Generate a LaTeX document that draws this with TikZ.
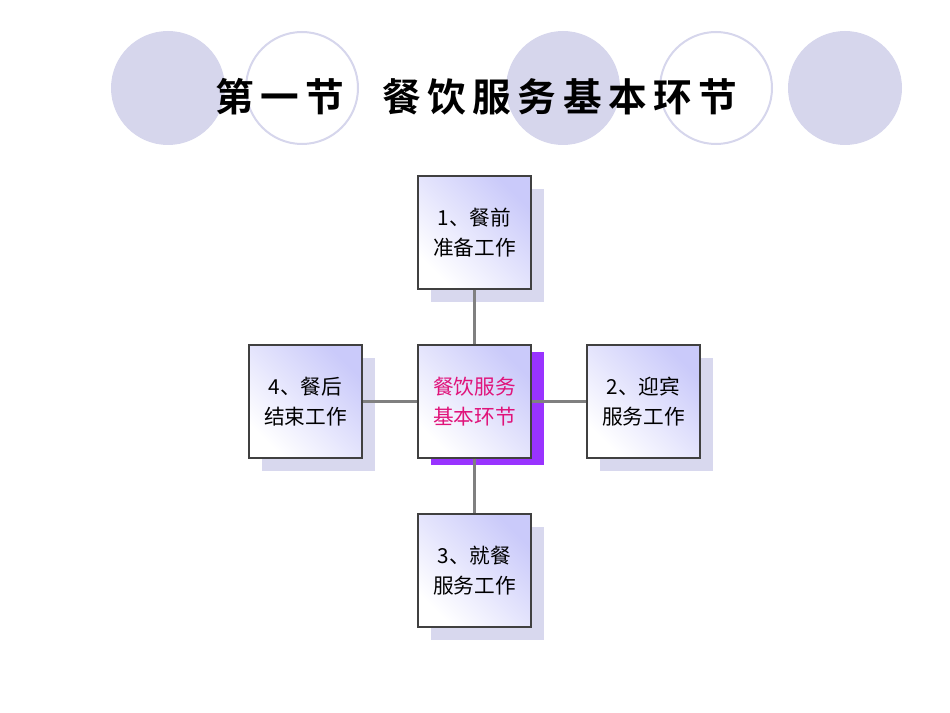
\documentclass[tikz,border=0pt]{standalone}
\usepackage{fontspec}
\newfontfamily\cjk{Noto Sans CJK SC}
\newfontfamily\cjkb{Noto Sans CJK SC Bold}
\definecolor{lav}{HTML}{D6D6EC}
\definecolor{shad}{HTML}{D8D8EE}
\definecolor{boxb}{HTML}{CACAFA}
\definecolor{purp}{HTML}{9933FF}
\definecolor{pink}{HTML}{E0137A}
\begin{document}
\begin{tikzpicture}[x=0.75pt,y=-0.75pt,
  bx/.style={draw=black!75,line width=0.8pt,minimum width=84.75pt,minimum height=84.75pt,
    inner sep=0pt,align=center,font=\cjk\fontsize{15.5}{22}\selectfont,
    path picture={\shade[bottom color=white,top color=boxb,shading angle=-45]
      (path picture bounding box.south west) rectangle (path picture bounding box.north east);}},
  sh/.style={fill=shad,draw=none},
  ln/.style={draw=gray,line width=2pt}]
\useasboundingbox (0,0) rectangle (950,713);
\fill[lav] (168,88) circle (57);
\draw[lav,line width=1.5pt,fill=white] (302,88) circle (56);
\fill[lav] (563,88) circle (57);
\draw[lav,line width=1.5pt,fill=white] (716,88) circle (56);
\fill[lav] (845,88) circle (57);
\node (title) at (476,97) {\cjkb\fontsize{29}{32}\selectfont 第\,一\,节\quad 餐\,饮\,服\,务\,基\,本\,环\,节};
% shadows
\fill[sh] (431,189) rectangle (544,302);
\fill[sh] (262,358) rectangle (375,471);
\fill[sh] (600,358) rectangle (713,471);
\fill[sh] (431,527) rectangle (544,640);
\fill[purp] (431,352) rectangle (544,465);
\coordinate (c) at (474.5,401.5);
\node[bx,text=pink] (ctr) at (c) {餐饮服务\\基本环节};
\node[bx] (top) at (474.5,232.5) {1、餐前\\准备工作};
\node[bx] (lft) at (305.5,401.5) {4、餐后\\结束工作};
\node[bx] (rgt) at (643.5,401.5) {2、迎宾\\服务工作};
\node[bx] (bot) at (474.5,570.5) {3、就餐\\服务工作};
\draw[ln] (top) -- (ctr) -- (bot);
\draw[ln] (lft) -- (ctr) -- (rgt);
\end{tikzpicture}
\end{document}
